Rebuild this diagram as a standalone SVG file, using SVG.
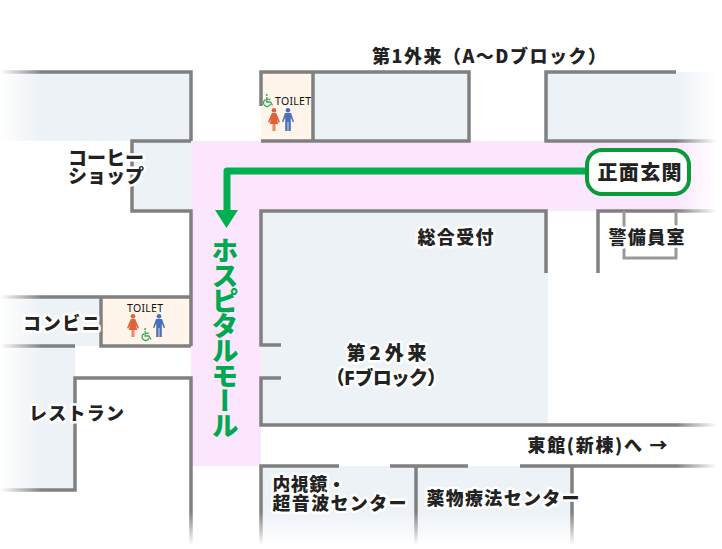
<svg xmlns="http://www.w3.org/2000/svg" xmlns:xlink="http://www.w3.org/1999/xlink" width="722" height="549" viewBox="0 0 722 549">
<style>
.room{fill:#edf2f7}
.wc{fill:#fff5ea}
.pink{fill:#fce6fd}
.wall{fill:none;stroke:#808080;stroke-width:3.5;stroke-linejoin:miter}
.inner{fill:none;stroke:#999;stroke-width:3}
.lb{font-family:"Noto Sans CJK JP","Noto Sans",sans-serif;font-weight:900;font-size:18px;fill:#222;stroke:#fff;stroke-width:5px;paint-order:stroke;stroke-linejoin:round}
.tl{font-family:"Noto Sans","Open Sans",sans-serif;font-size:10.5px;fill:#111}
.route{fill:none;stroke:#00b050;stroke-width:7;stroke-linejoin:round}
</style>
<defs>
<linearGradient id="fl" x1="0" x2="1" y1="0" y2="0"><stop offset="0" stop-color="#fff"/><stop offset="1" stop-color="#fff" stop-opacity="0"/></linearGradient>
<linearGradient id="fr" x1="1" x2="0" y1="0" y2="0"><stop offset="0.12" stop-color="#fff"/><stop offset="1" stop-color="#fff" stop-opacity="0"/></linearGradient>
<linearGradient id="fb" x1="0" x2="0" y1="1" y2="0"><stop offset="0.1" stop-color="#fff"/><stop offset="1" stop-color="#fff" stop-opacity="0"/></linearGradient>
<g id="woman" fill="#e0603a"><circle cx="0" cy="2.3" r="2.3"/><path d="M-2.2 5H2.2L6 14L4.8 14.7L2.8 11L4.3 16H1.4V23H.3V16H-.3V23H-1.4V16H-4.3L-2.8 11L-4.8 14.7L-6 14Z"/></g>
<g id="man" fill="#4a6fbe"><circle cx="0" cy="2.3" r="2.3"/><path d="M-3 5H3L6 13.5L4.8 14.2L2.8 9.5V23H.4V14H-.4V23H-2.8V9.5L-4.8 14.2L-6 13.5Z"/></g>
<g id="chair" fill="none" stroke="#3aa860" stroke-width="1.3"><circle cx="3.7" cy="1.1" r="1" fill="#3aa860" stroke="none"/><path d="M3.7 3V8H7.5L9.5 11.5"/><path d="M3.7 5.3H7.5"/><path d="M2.6 5.6A3.6 3.6 0 1 0 7.5 10"/></g>
</defs>

<g id="floor">
<rect class="room" x="0" y="72" width="191" height="69"/>
<rect class="room" x="132" y="141" width="59" height="70"/>
<rect class="room" x="313" y="72" width="156" height="69"/>
<rect class="room" x="546" y="72" width="176" height="69"/>
<rect class="wc" x="261" y="72" width="52" height="69"/>
<rect class="room" x="0" y="297" width="101" height="49"/>
<rect class="wc" x="101" y="297" width="90" height="49"/>
<rect class="room" x="0" y="346" width="75" height="144"/>
<rect class="room" x="261" y="211" width="287" height="214"/>
<rect class="room" x="261" y="466" width="311" height="83"/>
<path class="pink" d="M191 141H722V211H261V466H191Z"/>
</g>

<g id="walls">
<path class="wall" d="M0 72H191V141"/>
<path class="wall" d="M191 141H132V211H191V346M0 297H191M0 346H75M101 297V346H191"/>
<path class="wall" d="M0 490H75V378H191V549"/>
<path class="wall" d="M261 106V72H469V141H261M313 72V141"/>
<path class="wall" d="M676 72H546V141H722"/>
<path class="wall" d="M546 273V211H261V345H281M281 378H261V425H722"/>
<path class="wall" d="M598 273V211H722"/>
<path class="inner" d="M624 211V258H676V211"/>
<path class="wall" d="M339 466H261V549M390 466H468M520 466H722M416 466V549M572 466V549"/>
</g>

<g id="fades">
<rect x="0" y="60" width="42" height="440" fill="url(#fl)"/>
<rect x="676" y="60" width="46" height="420" fill="url(#fr)"/>
<rect x="0" y="512" width="722" height="37" fill="url(#fb)"/>
</g>

<g id="toilet-upper">
<use xlink:href="#chair" href="#chair" x="263" y="94"/>
<text class="tl" x="275" y="104.500" textLength="36">TOILET</text>
<use xlink:href="#woman" href="#woman" x="274" y="108"/>
<use xlink:href="#man" href="#man" x="288" y="108"/>
</g>
<g id="toilet-lower">
<text class="tl" x="127" y="311.500" textLength="36">TOILET</text>
<use xlink:href="#woman" href="#woman" x="133" y="314"/>
<use xlink:href="#man" href="#man" x="159" y="314"/>
<use xlink:href="#chair" href="#chair" x="141.500" y="328"/>
</g>

<g id="route">
<path class="route" d="M590 171H227V212"/>
<path d="M215 210H238L226.500 228Z" fill="#00b050"/>
</g>

<g id="entrance">
<rect x="587" y="150" width="102" height="44" rx="15" fill="#fff" stroke="#0a9a3a" stroke-width="4"/>
<text class="lb" x="597.500" y="180" textLength="84" style="font-size:20px;stroke-width:3px">正面玄関</text>
</g>

<text id="mall" x="225" y="237" style="writing-mode:vertical-rl;font-family:'Noto Sans CJK JP',sans-serif;font-weight:900;font-size:27px;letter-spacing:-1.900px;fill:#00a84f">ホスピタルモール</text>

<g id="labels">
<text class="lb" x="372" y="63" textLength="234">第1外来（A～Dブロック）</text>
<text class="lb" x="68" y="164.500" textLength="76" style="font-size:19px">コーヒー</text>
<text class="lb" x="68" y="182.500" textLength="76" style="font-size:19px">ショップ</text>
<text class="lb" x="417.500" y="243.500" textLength="76">総合受付</text>
<text class="lb" x="608.500" y="243.500" textLength="76">警備員室</text>
<text class="lb" x="23" y="329.500" textLength="77">コンビニ</text>
<text class="lb" x="29" y="419.500" textLength="95">レストラン</text>
<text class="lb" x="346.500" y="359.500" textLength="80" style="font-size:19px">第2外来</text>
<text class="lb" x="326" y="384.500" textLength="120" style="font-size:19px">（Fブロック）</text>
<text class="lb" x="527.500" y="451.500" textLength="140">東館(新棟)へ →</text>
<text class="lb" x="272.500" y="490.500" textLength="73">内視鏡・</text>
<text class="lb" x="272.500" y="509.500" textLength="134">超音波センター</text>
<text class="lb" x="426.500" y="504.500" textLength="153">薬物療法センター</text>
</g>
</svg>
